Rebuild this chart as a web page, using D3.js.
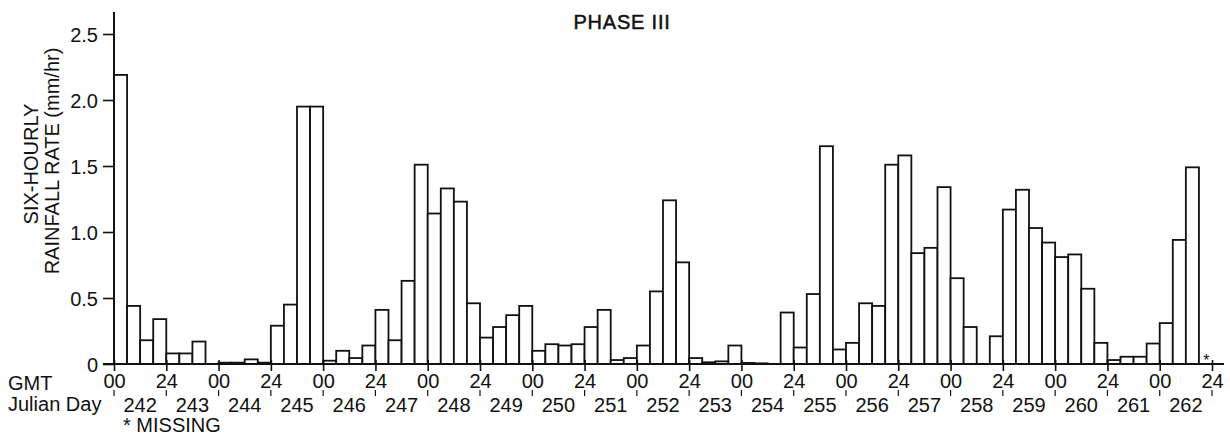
<!DOCTYPE html>
<html>
<head>
<meta charset="utf-8">
<script src="https://cdn.jsdelivr.net/npm/d3@7"></script>
<style>
  body { margin: 0; background: #fff; }
  svg { display: block; }
  text { font-family: "Liberation Sans", Arial, sans-serif; fill: #111; }
</style>
</head>
<body>
<svg width="1230" height="436"></svg>
<script>
// Julian days, six-hourly rainfall (4 per day, null = missing)
var days = [242, 243, 244, 245, 246, 247, 248, 249, 250, 251, 252,
            253, 254, 255, 256, 257, 258, 259, 260, 261, 262];
var gmtLabels = ["00", "24"];
var yTicks = [0, 0.5, 1.0, 1.5, 2.0, 2.5];
var rainfall = [
  2.19, 0.44, 0.18, 0.34,    // 242
  0.08, 0.08, 0.17, 0,       // 243
  0.01, 0.01, 0.035, 0.01,   // 244
  0.29, 0.45, 1.95, 1.95,    // 245
  0.025, 0.10, 0.045, 0.14,  // 246
  0.41, 0.18, 0.63, 1.51,    // 247
  1.14, 1.33, 1.23, 0.46,    // 248
  0.20, 0.28, 0.37, 0.44,    // 249
  0.10, 0.15, 0.14, 0.15,    // 250
  0.28, 0.41, 0.03, 0.045,   // 251
  0.14, 0.55, 1.24, 0.77,    // 252
  0.045, 0.013, 0.02, 0.14,  // 253
  0.008, 0.005, 0, 0.39,     // 254
  0.125, 0.53, 1.65, 0.11,   // 255
  0.16, 0.46, 0.44, 1.51,    // 256
  1.58, 0.84, 0.88, 1.34,    // 257
  0.65, 0.28, 0, 0.21,       // 258
  1.17, 1.32, 1.03, 0.92,    // 259
  0.81, 0.83, 0.57, 0.16,    // 260
  0.03, 0.055, 0.055, 0.155, // 261
  0.31, 0.94, 1.49, null     // 262
];

var svg = d3.select("svg"),
    left = 114,
    right = 1212,
    base = 364;

var dayScale = d3.scaleLinear()
  .domain([days[0], days[days.length - 1] + 1])
  .range([left, right]);

var xScale = d3.scaleBand()
  .domain(d3.range(rainfall.length))
  .range([left, right])
  .padding(0);

var yScale = d3.scaleLinear()
  .domain([0, 2.5])
  .range([base, 34]);

// bars
svg.append("g").selectAll("rect")
  .data(rainfall.map(function(v, i) { return {i: i, v: v}; })
    .filter(function(d) { return d.v !== null && d.v > 0; }))
  .enter().append("rect")
  .attr("x", function(d) { return xScale(d.i); })
  .attr("y", function(d) { return yScale(d.v); })
  .attr("width", xScale.bandwidth())
  .attr("height", function(d) { return base - yScale(d.v); })
  .attr("fill", "#fff")
  .attr("stroke", "#111")
  .attr("stroke-width", 1.8);

// missing marker
rainfall.forEach(function(v, i) {
  if (v === null) {
    svg.append("text")
      .attr("x", xScale(i) + xScale.bandwidth() / 2 + 1)
      .attr("y", base + 2)
      .attr("text-anchor", "middle")
      .attr("font-size", 16)
      .text("*");
  }
});

// y axis
var y_axis = d3.axisLeft(yScale)
  .tickValues(yTicks)
  .tickSize(11)
  .tickPadding(5)
  .tickFormat(function(d) { return d === 0 ? "0" : d3.format(".1f")(d); });

var gy = svg.append("g")
  .attr("transform", "translate(" + left + ",0)")
  .call(y_axis);
gy.select(".domain").remove();
gy.selectAll("line").attr("stroke", "#111").attr("stroke-width", 1.6);
gy.selectAll("text").attr("font-size", 20).attr("dy", "0.36em")
  .style("font-family", "'Liberation Sans', Arial, sans-serif");

svg.append("line")
  .attr("x1", left).attr("x2", left)
  .attr("y1", 12).attr("y2", base)
  .attr("stroke", "#111").attr("stroke-width", 2);

// x axis line with day boundary ticks
svg.append("line")
  .attr("x1", left - 11).attr("x2", 1224)
  .attr("y1", base).attr("y2", base)
  .attr("stroke", "#111").attr("stroke-width", 2);

var bounds = days.concat([days[days.length - 1] + 1]);

var x_axis = d3.axisBottom(dayScale)
  .tickValues(bounds)
  .tickSize(7)
  .tickPadding(3)
  .tickFormat(function(d, i) { return gmtLabels[i % 2]; });

var gx = svg.append("g")
  .attr("transform", "translate(0," + base + ")")
  .call(x_axis);
gx.select(".domain").remove();
gx.selectAll("line").attr("stroke", "#111").attr("stroke-width", 1.6).attr("y1", -4);
gx.selectAll("text").attr("font-size", 20)
  .style("font-family", "'Liberation Sans', Arial, sans-serif");

// Julian day row
var gd = svg.append("g");
gd.selectAll("line")
  .data(bounds)
  .enter().append("line")
  .attr("x1", function(d) { return dayScale(d); })
  .attr("x2", function(d) { return dayScale(d); })
  .attr("y1", 390).attr("y2", 396)
  .attr("stroke", "#111").attr("stroke-width", 1.2);
gd.selectAll("text")
  .data(days)
  .enter().append("text")
  .attr("x", function(d) { return (dayScale(d) + dayScale(d + 1)) / 2; })
  .attr("y", 412)
  .attr("text-anchor", "middle")
  .attr("font-size", 20)
  .text(function(d) { return d; });

// labels
svg.append("text").attr("x", 8).attr("y", 390).attr("font-size", 20).text("GMT");
svg.append("text").attr("x", 8).attr("y", 411).attr("font-size", 20).text("Julian Day");
svg.append("text").attr("x", 123).attr("y", 432).attr("font-size", 20).text("* MISSING");

svg.append("text")
  .attr("x", 622).attr("y", 29)
  .attr("text-anchor", "middle")
  .attr("font-size", 20)
  .attr("letter-spacing", 0.8)
  .attr("stroke", "#111")
  .attr("stroke-width", 0.5)
  .text("PHASE III");

svg.append("text")
  .attr("transform", "translate(38,164) rotate(-90)")
  .attr("text-anchor", "middle")
  .attr("font-size", 20)
  .text("SIX-HOURLY");
svg.append("text")
  .attr("transform", "translate(59,161) rotate(-90)")
  .attr("text-anchor", "middle")
  .attr("font-size", 20)
  .text("RAINFALL RATE (mm/hr)");
</script>
</body>
</html>
